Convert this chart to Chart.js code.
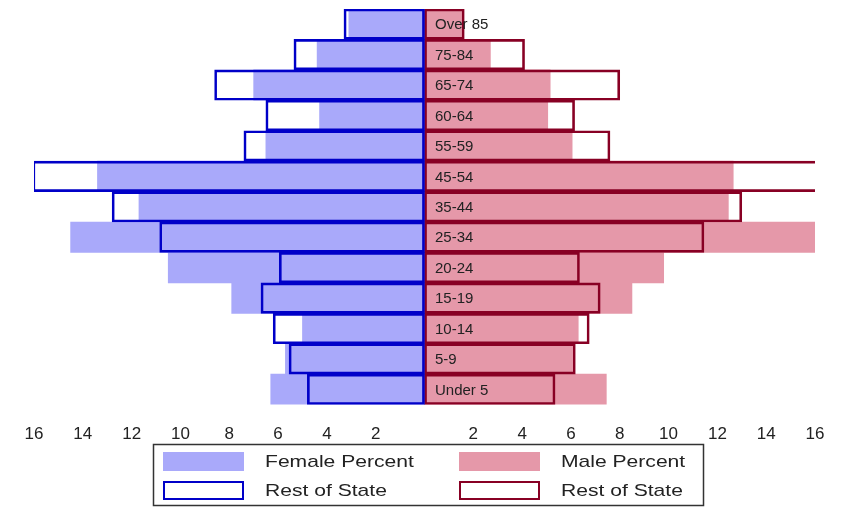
<!DOCTYPE html>
<html>
<head>
<meta charset="utf-8">
<script src="https://cdn.jsdelivr.net/npm/chart.js@4"></script>
<style>
  body { margin: 0; background: #fff; }
  #wrap { width: 846px; height: 507px; }
</style>
</head>
<body>
<div id="wrap"><canvas id="pyramid" width="846" height="507"></canvas></div>
<script>
// age groups, top to bottom
const AGE_GROUPS = ["Over 85", "75-84", "65-74", "60-64", "55-59", "45-54", "35-44", "25-34", "20-24", "15-19", "10-14", "5-9", "Under 5"];
// percent values
const FEMALE_PCT = [3.1, 4.4, 7.0, 4.3, 6.5, 13.4, 11.7, 14.5, 10.5, 7.9, 5.0, 5.7, 6.3];
const FEMALE_STATE = [3.3, 5.35, 8.6, 6.5, 7.4, 16.05, 12.8, 10.85, 5.95, 6.7, 6.2, 5.55, 4.8];
const MALE_PCT = [1.55, 2.7, 5.15, 5.05, 6.05, 12.65, 12.45, 16.45, 9.8, 8.5, 6.3, 6.12, 7.45];
const MALE_STATE = [1.63, 4.1, 8.0, 6.15, 7.6, 16.4, 13.0, 11.45, 6.35, 7.2, 6.75, 6.18, 5.35];
const X_TICK_MAX = 16;

const BLUE_FILL = "#a9a9fa";
const PINK_FILL = "#e598a9";
const BLUE_LINE = "#0000c8";
const RED_LINE = "#880024";

const neg = arr => arr.map(v => -v);

// draws age labels just right of the center line
const ageLabels = {
    id: "ageLabels",
    afterDatasetsDraw(chart) {
        const ctx = chart.ctx;
        const xs = chart.scales.x, ys = chart.scales.y;
        ctx.save();
        ctx.font = "15px 'Liberation Sans', Arial, sans-serif";
        ctx.fillStyle = "#222";
        ctx.textBaseline = "middle";
        ctx.textAlign = "left";
        AGE_GROUPS.forEach(function (lab, i) {
            ctx.fillText(lab, xs.getPixelForValue(0) + 10.5, ys.getPixelForValue(i) + 1);
        });
        ctx.restore();
    }
};

// boxed legend, 2 columns x 2 rows
const boxLegend = {
    id: "boxLegend",
    afterDraw(chart) {
        const ctx = chart.ctx;
        const ds = chart.data.datasets;
        ctx.save();
        ctx.strokeStyle = "#333";
        ctx.lineWidth = 1.5;
        ctx.strokeRect(153.5, 444.5, 550, 61);
        const cells = [
            {d: ds[0], x: 163, y: 452},
            {d: ds[1], x: 459, y: 452},
            {d: ds[2], x: 163, y: 481},
            {d: ds[3], x: 459, y: 481}
        ];
        cells.forEach(function (c) {
            if (c.d.borderWidth) {
                ctx.fillStyle = "#fff";
                ctx.fillRect(c.x, c.y, 81, 19);
                ctx.strokeStyle = c.d.borderColor;
                ctx.lineWidth = 2;
                ctx.strokeRect(c.x + 1, c.y + 1, 79, 17);
            } else {
                ctx.fillStyle = c.d.backgroundColor;
                ctx.fillRect(c.x, c.y, 81, 19);
            }
            ctx.fillStyle = "#222";
            ctx.font = "17px 'Liberation Sans', Arial, sans-serif";
            ctx.textBaseline = "middle";
            ctx.save();
            ctx.translate(c.x + 102, c.y + 10.5);
            ctx.scale(1.24, 1);
            ctx.fillText(c.d.label, 0, 0);
            ctx.restore();
        });
        ctx.restore();
    }
};

new Chart(document.getElementById("pyramid"), {
    type: "bar",
    data: {
        labels: AGE_GROUPS,
        datasets: [
            {label: "Female Percent", data: neg(FEMALE_PCT), backgroundColor: BLUE_FILL, borderWidth: 0, order: 2},
            {label: "Male Percent", data: MALE_PCT, backgroundColor: PINK_FILL, borderWidth: 0, order: 2},
            {label: "Rest of State", data: neg(FEMALE_STATE), backgroundColor: "rgba(0,0,0,0)", borderColor: BLUE_LINE, borderWidth: 2, borderSkipped: false, order: 1},
            {label: "Rest of State", data: MALE_STATE, backgroundColor: "rgba(0,0,0,0)", borderColor: RED_LINE, borderWidth: 2, borderSkipped: false, order: 1}
        ]
    },
    options: {
        indexAxis: "y",
        responsive: false,
        animation: false,
        grouped: false,
        barPercentage: 1,
        categoryPercentage: 1,
        layout: {padding: {left: 34, right: 31, top: 9, bottom: 42}},
        scales: {
            x: {
                min: -X_TICK_MAX,
                max: X_TICK_MAX,
                grid: {display: false, drawTicks: false},
                border: {display: false},
                ticks: {
                    stepSize: 2,
                    padding: 20,
                    color: "#222",
                    font: {family: "'Liberation Sans', Arial, sans-serif", size: 17},
                    callback: v => v === 0 ? "" : Math.abs(v)
                }
            },
            y: {display: false}
        },
        plugins: {
            legend: {display: false},
            tooltip: {enabled: false}
        }
    },
    plugins: [ageLabels, boxLegend]
});
</script>
</body>
</html>
